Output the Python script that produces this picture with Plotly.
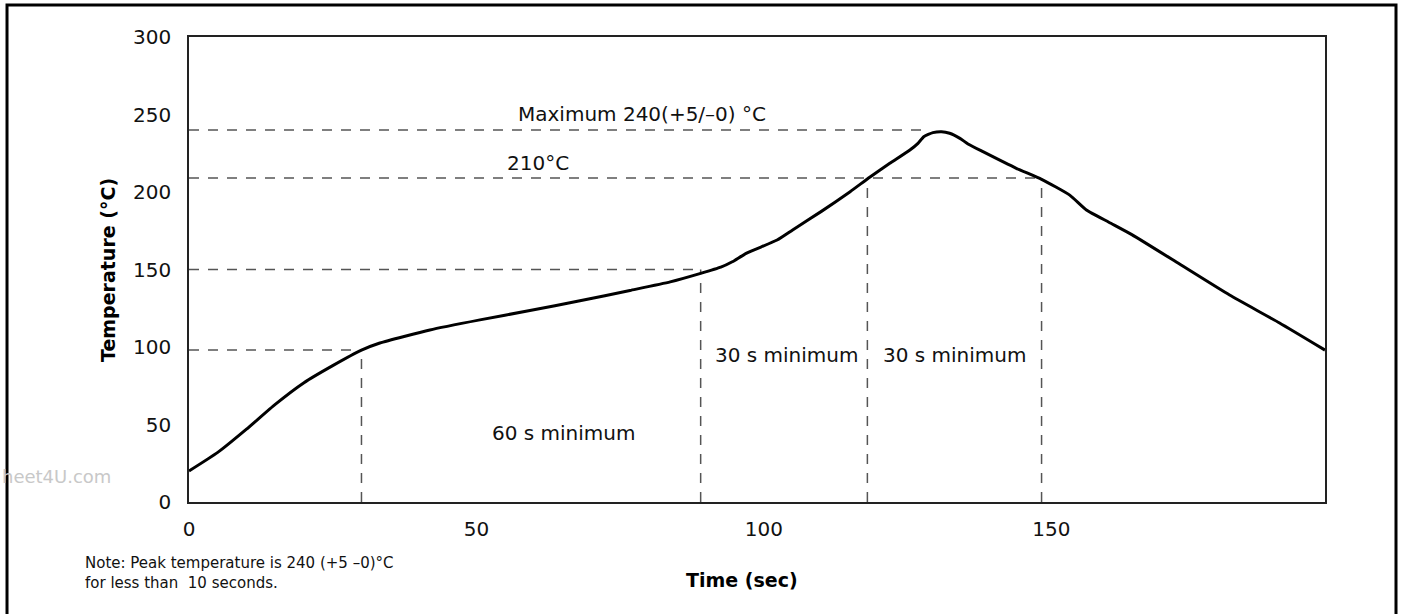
import plotly.graph_objects as go

# ---- data ----
time_s = [0, 5, 10, 15, 20, 25, 30, 33.2, 41.9, 50.6, 59.3, 68, 76.7, 83.7, 89,
          92.5, 94.5, 97, 102.3, 105, 110, 115, 118.4, 121.9, 125.4, 126.8, 127.8, 129.4,
          130.9, 132.3, 134.1, 135.5, 138.1, 143.9, 148.3, 153.2, 156.1, 160, 164,
          172.3, 181, 189.7, 197.6]
temp_c = [20, 32, 47, 63, 77, 88, 98, 102.6, 111, 117.5, 123.5, 129.8, 136.5, 142, 147.5,
          151.5, 155, 160.6, 169, 175.5, 187.5, 200.2, 209.5, 218.5, 227.1, 231.4, 235.7, 238.3,
          238.9, 237.9, 234.6, 231, 226, 215.3, 208.2, 198, 188.4, 180.5, 172.5,
          153.5, 133.5, 115.5, 98]

# horizontal guide lines: temperature level and time where it meets the curve
guide_levels = [98, 150, 209, 240]
guide_level_ends = [30, 89, 148.3, 128]
# vertical guide lines: time and temperature where it starts
guide_times = [30, 89, 118, 148.3]
guide_time_tops = [98, 150, 209, 209]

x_ticks = [0, 50, 100, 150]
y_ticks = [0, 50, 100, 150, 200, 250, 300]

labels_text = ["Maximum 240(+5/\u20130) \u00b0C", "210\u00b0C", "30 s minimum", "30 s minimum", "60 s minimum"]
labels_x = [78.8, 60.7, 104.0, 133.2, 65.2]
labels_y = [250.3, 218.7, 94.8, 94.8, 44.5]

FONT = "DejaVu Sans, Verdana, sans-serif"

fig = go.Figure()
fig.add_trace(go.Scatter(x=time_s, y=temp_c, mode="lines",
                         line=dict(color="black", width=3, shape="spline", smoothing=0.5),
                         showlegend=False, hoverinfo="skip"))

dash_style = dict(color="#555555", width=1.5, dash="10px,9px")
for lvl, xe in zip(guide_levels, guide_level_ends):
    fig.add_shape(type="line", xref="x", yref="y", x0=0, x1=xe, y0=lvl, y1=lvl,
                  line=dash_style, layer="below")
for t, top in zip(guide_times, guide_time_tops):
    fig.add_shape(type="line", xref="x", yref="y", x0=t, x1=t, y0=0, y1=top,
                  line=dash_style, layer="below")

for txt, lx, ly in zip(labels_text, labels_x, labels_y):
    fig.add_annotation(x=lx, y=ly, xref="x", yref="y", text=txt, showarrow=False,
                       font=dict(family=FONT, size=20, color="#111111"))

# axis titles
fig.add_annotation(x=0.4868, y=-0.1677, xref="paper", yref="paper", text="<b>Time (sec)</b>",
                   showarrow=False, font=dict(family=FONT, size=19, color="black"),
                   yanchor="middle")
fig.add_annotation(x=-0.0827, y=0.499, xref="paper", yref="paper", text="<b>Temperature (\u00b0C)</b>",
                   showarrow=False, textangle=-90, font=dict(family=FONT, size=19, color="black"))

# note
fig.add_annotation(x=-0.0933, y=-0.108, xref="paper", yref="paper",
                   text="Note: Peak temperature is 240 (+5 \u20130)\u00b0C<br>for less than  10 seconds.",
                   showarrow=False, align="left", xanchor="left", yanchor="top",
                   font=dict(family=FONT, size=15, color="#111111"))

# watermark (partially visible in the reference)
fig.add_annotation(x=-0.1664, y=0.0538, xref="paper", yref="paper", text="heet4U.com",
                   showarrow=False, xanchor="left", yanchor="middle",
                   font=dict(family=FONT, size=18, color="#c8c8c8"))

# outer frame
fig.add_shape(type="rect", xref="paper", yref="paper", x0=-0.1602, x1=1.0625, y0=-0.3, y1=1.0688,
              line=dict(color="black", width=3))

fig.update_layout(
    width=1403, height=614,
    margin=dict(l=189, r=78, t=37, b=112),
    paper_bgcolor="white", plot_bgcolor="white",
    font=dict(family=FONT, size=20, color="#111111"),
)
fig.update_xaxes(range=[0, 197.6], tickvals=x_ticks, showgrid=False, zeroline=False,
                 showline=True, mirror=True, linecolor="#222222", linewidth=1.5,
                 ticks="", ticklabelstandoff=8, tickfont=dict(size=20))
fig.update_yaxes(range=[0, 300], tickvals=y_ticks, showgrid=False, zeroline=False,
                 showline=True, mirror=True, linecolor="#222222", linewidth=1.5,
                 ticks="", ticklabelstandoff=12, tickfont=dict(size=20))

fig.write_html("out.html", config={"displayModeBar": False},
               post_script="document.body.style.margin='0';document.body.style.overflow='hidden';")
